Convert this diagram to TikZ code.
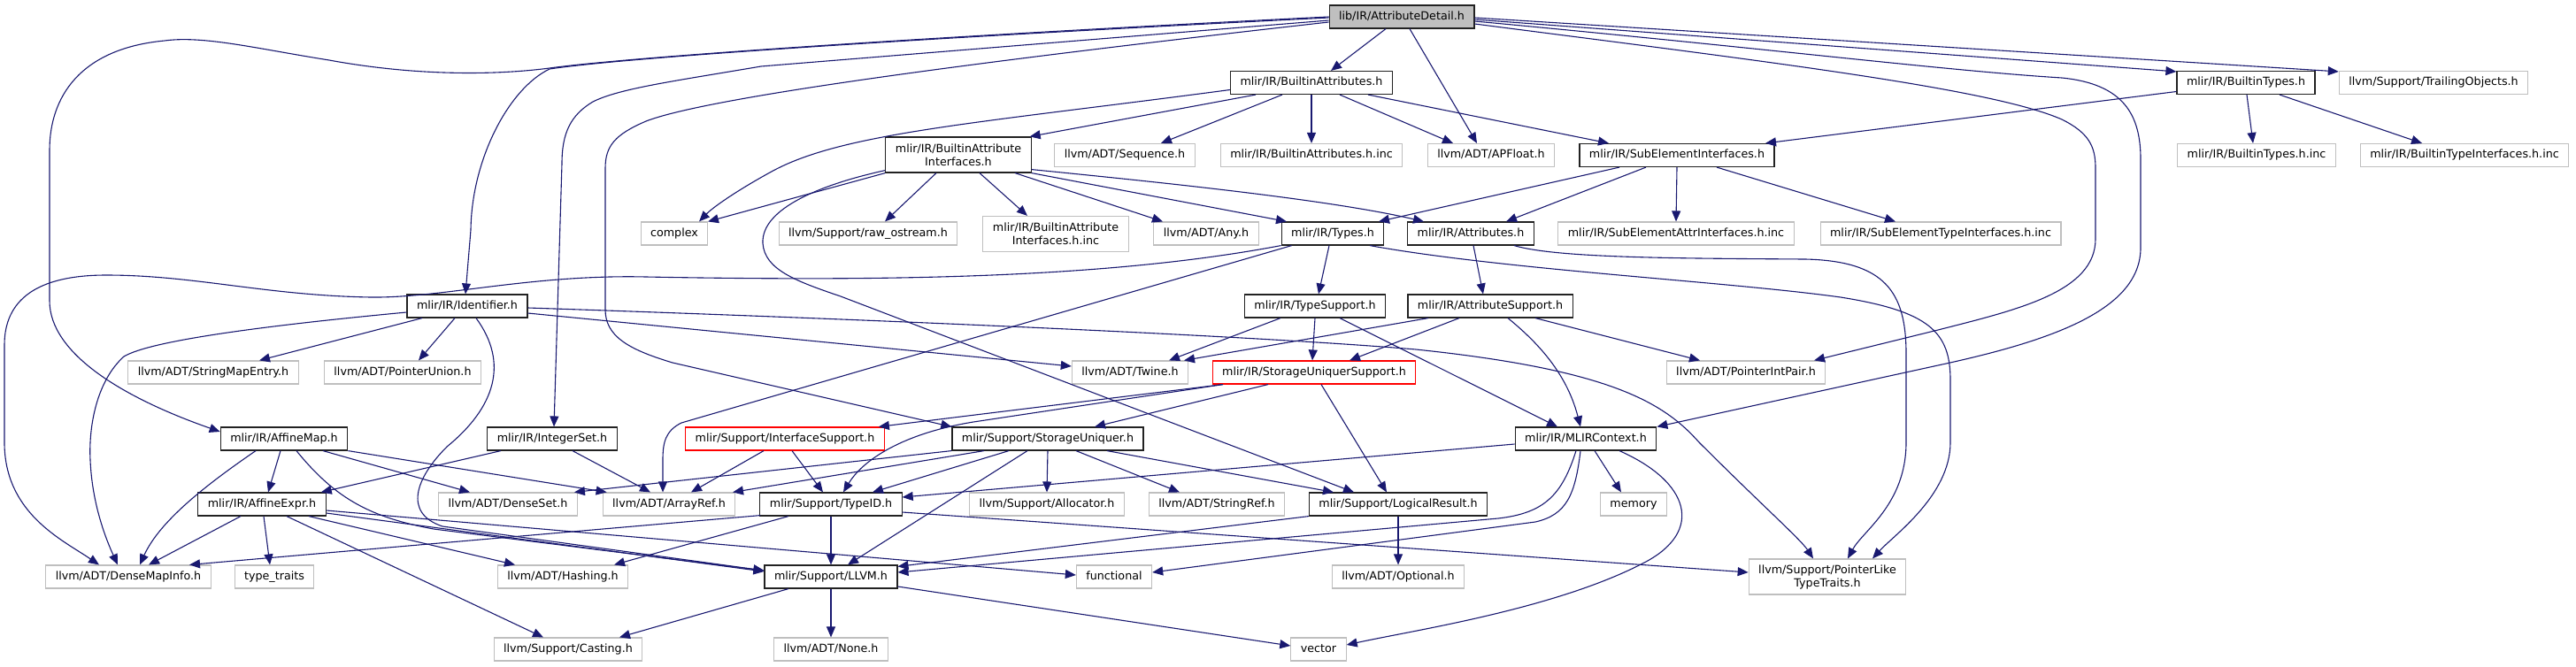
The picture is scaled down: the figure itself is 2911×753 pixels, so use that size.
\documentclass[tikz,border=0pt]{standalone}
\usepackage{fontspec}
\setmainfont{DejaVu Sans}
\usetikzlibrary{arrows.meta}
\definecolor{edgec}{HTML}{191970}
\definecolor{grayc}{HTML}{BFBFBF}
\definecolor{rootfill}{HTML}{BFBFBF}
\definecolor{redc}{HTML}{FF0000}
\definecolor{darkb}{HTML}{222222}
\tikzset{
  base/.style={draw=darkb, line width=1.15pt, fill=white, font=\fontsize{12.7pt}{15pt}\selectfont, inner xsep=11pt, inner ysep=0pt},
  one/.style={text height=9.6pt, text depth=2.8pt, minimum height=26pt},
  two/.style={align=center, minimum height=40pt},
  nb/.style={base, one},
  gb/.style={base, one, draw=grayc},
  rb/.style={base, one, draw=redc},
  rootb/.style={base, one, fill=rootfill},
  nbtwo/.style={base, two},
  gbtwo/.style={base, two, draw=grayc},
  e/.style={draw=edgec, line width=1.1pt, -{Triangle[length=12pt,width=10pt]}},
}
\begin{document}
\begin{tikzpicture}[x=1pt,y=-1pt]
\useasboundingbox (0,0) rectangle (2911,753);
% row 0
\node[rootb] (root) at (1584,19) {lib/IR/AttributeDetail.h};
% row 1
\node[nb] (BAttr) at (1482,93.5) {mlir/IR/BuiltinAttributes.h};
\node[nb] (BTypes) at (2538,93.5) {mlir/IR/BuiltinTypes.h};
\node[gb] (Trailing) at (2750,93.5) {llvm/Support/TrailingObjects.h};
% row 2
\node[nbtwo] (BAI) at (1083,175) {mlir/IR/BuiltinAttribute\\Interfaces.h};
\node[gb] (Seq) at (1271,175.5) {llvm/ADT/Sequence.h};
\node[gb] (BAinc) at (1482,175.5) {mlir/IR/BuiltinAttributes.h.inc};
\node[gb] (APFloat) at (1685,175.5) {llvm/ADT/APFloat.h};
\node[nb] (SEI) at (1895,175.5) {mlir/IR/SubElementInterfaces.h};
\node[gb] (BTinc) at (2550,175.5) {mlir/IR/BuiltinTypes.h.inc};
\node[gb] (BTIinc) at (2785,175.5) {mlir/IR/BuiltinTypeInterfaces.h.inc};
% row 3
\node[gb] (complex) at (762,264) {complex};
\node[gb] (rawos) at (981,264) {llvm/Support/raw\_ostream.h};
\node[gbtwo] (BAIinc) at (1193,264.5) {mlir/IR/BuiltinAttribute\\Interfaces.h.inc};
\node[gb] (Any) at (1363,264) {llvm/ADT/Any.h};
\node[nb] (Types) at (1506,264) {mlir/IR/Types.h};
\node[nb] (Attrs) at (1662,264) {mlir/IR/Attributes.h};
\node[gb] (SEAinc) at (1894,264) {mlir/IR/SubElementAttrInterfaces.h.inc};
\node[gb] (SETinc) at (2193,264) {mlir/IR/SubElementTypeInterfaces.h.inc};
% row 4
\node[nb] (Ident) at (528,346) {mlir/IR/Identifier.h};
\node[nb] (TypeSup) at (1486,346) {mlir/IR/TypeSupport.h};
\node[nb] (AttrSup) at (1684,346) {mlir/IR/AttributeSupport.h};
% row 5
\node[gb] (SME) at (241,421) {llvm/ADT/StringMapEntry.h};
\node[gb] (PU) at (455,421) {llvm/ADT/PointerUnion.h};
\node[gb] (Twine) at (1277,421) {llvm/ADT/Twine.h};
\node[rb] (SUS) at (1485,421) {mlir/IR/StorageUniquerSupport.h};
\node[gb] (PIP) at (1973,421) {llvm/ADT/PointerIntPair.h};
% row 6
\node[nb] (AffMap) at (321,496) {mlir/IR/AffineMap.h};
\node[nb] (IntSet) at (624,496) {mlir/IR/IntegerSet.h};
\node[rb] (IfSup) at (887,496) {mlir/Support/InterfaceSupport.h};
\node[nb] (SU) at (1184,496) {mlir/Support/StorageUniquer.h};
\node[nb] (Ctx) at (1792,496) {mlir/IR/MLIRContext.h};
% row 7
\node[nb] (AffExpr) at (296,570) {mlir/IR/AffineExpr.h};
\node[gb] (DenseSet) at (574,570) {llvm/ADT/DenseSet.h};
\node[gb] (ArrayRef) at (756,570) {llvm/ADT/ArrayRef.h};
\node[nb] (TypeID) at (939,570) {mlir/Support/TypeID.h};
\node[gb] (Alloc) at (1183,570) {llvm/Support/Allocator.h};
\node[gb] (StrRef) at (1375,570) {llvm/ADT/StringRef.h};
\node[nb] (LogRes) at (1580,570) {mlir/Support/LogicalResult.h};
\node[gb] (memory) at (1846,570) {memory};
% row 8
\node[gb] (DMI) at (145,652) {llvm/ADT/DenseMapInfo.h};
\node[gb] (tt) at (310,652) {type\_traits};
\node[gb] (Hash) at (636,652) {llvm/ADT/Hashing.h};
\node[nb] (LLVM) at (939,652) {mlir/Support/LLVM.h};
\node[gb] (functional) at (1259,652) {functional};
\node[gb] (Optional) at (1580,652) {llvm/ADT/Optional.h};
\node[gbtwo] (PLTT) at (2065,652) {llvm/Support/PointerLike\\TypeTraits.h};
% row 9
\node[gb] (Casting) at (642,734) {llvm/Support/Casting.h};
\node[gb] (None) at (939,734) {llvm/ADT/None.h};
\node[gb] (vector) at (1490,734) {vector};

% ---- edges from root
\draw[e] ([xshift=-18pt]root.south) -- ([xshift=22pt]BAttr.north);
\draw[e] ([xshift=9pt]root.south) -- ([xshift=-16pt]APFloat.north);
\draw[e] ([yshift=-3pt]root.east) -- ([yshift=-1pt]BTypes.north west);
\draw[e] ([yshift=-1pt]root.east) -- ([yshift=-1pt]Trailing.north west);
\draw[e] ([yshift=-5pt]root.east) .. controls (2000,55) and (2200,80) .. (2330,88) .. controls (2400,95) and (2419,130) .. (2419,180) -- (2419,280) .. controls (2419,350) and (2320,385) .. (2190,413) -- (Ctx.north east);
\draw[e] ([yshift=-8pt]root.east) .. controls (2000,70) and (2250,100) .. (2330,135) .. controls (2360,150) and (2368,165) .. (2368,190) -- (2368,270) .. controls (2368,330) and (2280,350) .. (2190,373) -- ([xshift=77pt]PIP.north);
\draw[e] ([yshift=-1pt]root.west) .. controls (1000,45) and (700,66) .. (621,78) .. controls (575,100) and (533,180) .. (532,260) -- ([xshift=-2pt]Ident.north);
\draw[e] (root.west) .. controls (1000,44) and (700,66) .. (621,77) .. controls (560,85) and (470,86) .. (372,68) .. controls (290,55) and (230,40) .. (186,46) .. controls (90,55) and (56,110) .. (56,170) -- (56,340) .. controls (56,400) and (140,450) .. ([yshift=8pt]AffMap.west);
\draw[e] ([yshift=-4pt]root.west) -- (860,75) .. controls (760,92) and (700,100) .. (670,115) .. controls (645,130) and (635,150) .. (635,185) -- ([xshift=2pt]IntSet.north);
\draw[e] ([yshift=-6pt]root.west) .. controls (1100,70) and (800,110) .. (730,137) .. controls (695,152) and (684,165) .. (684,190) -- (684,350) .. controls (684,380) and (710,395) .. (760,410) -- (SU.north west);

% ---- BuiltinAttributes
\draw[e] ([xshift=-63pt]BAttr.south) -- ([xshift=-2pt]BAI.north east);
\draw[e] ([xshift=-33pt]BAttr.south) -- ([xshift=41pt]Seq.north);
\draw[e] (BAttr.south) -- (BAinc.north);
\draw[e] ([xshift=32pt]BAttr.south) -- ([xshift=-43pt]APFloat.north);
\draw[e] ([xshift=64pt]BAttr.south) -- ([xshift=-77pt]SEI.north);
\draw[e] ([yshift=-8pt]BAttr.west) .. controls (1100,140) and (950,150) .. (870,195) .. controls (830,217) and (805,235) .. ([xshift=28pt]complex.north);

% ---- BuiltinTypes
\draw[e] ([yshift=-10pt]BTypes.west) -- ([xshift=100pt]SEI.north);
\draw[e] ([xshift=1pt]BTypes.south) -- ([xshift=-4pt]BTinc.north);
\draw[e] ([xshift=38pt]BTypes.south) -- ([xshift=-48pt]BTIinc.north);

% ---- SubElementInterfaces
\draw[e] ([xshift=-65pt]SEI.south) -- ([xshift=52pt]Types.north);
\draw[e] ([xshift=-35pt]SEI.south) -- ([xshift=40pt]Attrs.north);
\draw[e] (SEI.south) -- (SEAinc.north);
\draw[e] ([xshift=45pt]SEI.south) -- ([xshift=-51pt]SETinc.north);

% ---- BuiltinAttributeInterfaces
\draw[e] (BAI.south west) -- ([xshift=38pt]complex.north);
\draw[e] ([xshift=-25pt]BAI.south) -- ([xshift=19pt]rawos.north);
\draw[e] ([xshift=24pt]BAI.south) -- ([xshift=-32pt]BAIinc.north);
\draw[e] ([xshift=64pt]BAI.south) -- ([xshift=-49pt]Any.north);
\draw[e] (BAI.south east) -- ([xshift=-52pt]Types.north);
\draw[e] ([yshift=4pt]BAI.south east) .. controls (1300,205) and (1500,225) .. ([xshift=-53pt]Attrs.north);
\draw[e] ([yshift=3pt]BAI.south west) .. controls (930,208) and (860,235) .. (862,275) .. controls (864,305) and (900,318) .. (950,335) -- ([xshift=-50pt]LogRes.north);

% ---- Types
\draw[e] ([xshift=-4pt]Types.south) -- ([xshift=4pt]TypeSup.north);
\draw[e] ([xshift=12pt]Types.south west) -- (770,478) .. controls (752,487) and (749,500) .. (749,520) -- ([xshift=-7pt]ArrayRef.north);
\draw[e] (Types.south west) .. controls (1250,315) and (1000,318) .. (730,313) .. controls (600,310) and (500,337) .. (419,336) .. controls (300,334) and (220,311) .. (120,311) .. controls (40,311) and (5,340) .. (5,390) -- (5,500) .. controls (5,580) and (70,610) .. ([xshift=-33pt]DMI.north);
\draw[e] ([xshift=42pt]Types.south) .. controls (1700,305) and (1950,318) .. (2080,336) .. controls (2180,352) and (2204,375) .. (2204,430) -- (2204,500) .. controls (2204,560) and (2140,605) .. ([xshift=51pt]PLTT.north);

% ---- Attributes
\draw[e] ([xshift=3pt]Attrs.south) -- ([xshift=-8pt]AttrSup.north);
\draw[e] ([xshift=49pt]Attrs.south) .. controls (1760,292) and (1900,292) .. (2040,293) .. controls (2130,295) and (2154,330) .. (2154,400) -- (2154,500) .. controls (2154,570) and (2105,600) .. ([xshift=23pt]PLTT.north);

% ---- TypeSupport
\draw[e] ([xshift=-39pt]TypeSup.south) -- ([xshift=44pt]Twine.north);
\draw[e] (TypeSup.south) -- ([xshift=-2pt]SUS.north);
\draw[e] ([xshift=28pt]TypeSup.south) -- ([xshift=-32pt]Ctx.north);

% ---- AttributeSupport
\draw[e] ([xshift=-70pt]AttrSup.south) -- ([xshift=61pt]Twine.north);
\draw[e] ([xshift=-35pt]AttrSup.south) -- ([xshift=40pt]SUS.north);
\draw[e] ([xshift=20pt]AttrSup.south) .. controls (1735,385) and (1770,420) .. ([xshift=-6pt]Ctx.north);
\draw[e] ([xshift=51pt]AttrSup.south) -- ([xshift=-52pt]PIP.north);

% ---- Identifier
\draw[e] ([xshift=-51pt]Ident.south) -- ([xshift=52pt]SME.north);
\draw[e] ([xshift=-14pt]Ident.south) -- ([xshift=18pt]PU.north);
\draw[e] ([yshift=-8pt]Ident.east) -- ([yshift=7pt]Twine.west);
\draw[e] ([yshift=-2pt]Ident.east) .. controls (900,358) and (1400,378) .. (1600,395) .. controls (1820,418) and (1880,455) .. (1920,500) .. controls (1990,570) and (2035,610) .. ([xshift=-16pt]PLTT.north);
\draw[e] ([yshift=-7pt]Ident.west) .. controls (300,368) and (170,385) .. (140,403) .. controls (110,430) and (100,480) .. (102,520) .. controls (104,570) and (120,610) .. ([xshift=-12pt]DMI.north);
\draw[e] ([xshift=10pt]Ident.south) .. controls (575,410) and (560,460) .. (505,505) .. controls (470,540) and (455,580) .. (500,595) -- ([yshift=7pt]LLVM.west);

% ---- AffineMap
\draw[e] ([xshift=-4pt]AffMap.south) -- ([xshift=7pt]AffExpr.north);
\draw[e] ([xshift=-32pt]AffMap.south) .. controls (230,550) and (180,590) .. ([xshift=13pt]DMI.north);
\draw[e] ([xshift=14pt]AffMap.south) .. controls (380,565) and (420,585) .. (490,598) -- ([yshift=7pt]LLVM.west);
\draw[e] ([xshift=44pt]AffMap.south) -- ([xshift=-43pt]DenseSet.north);
\draw[e] (AffMap.south east) -- ([xshift=5pt]ArrayRef.north west);

% ---- IntegerSet
\draw[e] ([xshift=-58pt]IntSet.south) -- ([xshift=-6pt]AffExpr.north east);
\draw[e] ([xshift=23pt]IntSet.south) -- ([xshift=-21pt]ArrayRef.north);

% ---- AffineExpr
\draw[e] ([xshift=-24pt]AffExpr.south) -- ([xshift=23pt]DMI.north);
\draw[e] ([xshift=2pt]AffExpr.south) -- ([xshift=-5pt]tt.north);
\draw[e] ([xshift=28pt]AffExpr.south) -- ([xshift=-28pt]Casting.north);
\draw[e] ([xshift=53pt]AffExpr.south) -- ([xshift=-54pt]Hash.north);
\draw[e] ([yshift=-7pt]AffExpr.east) -- ([yshift=2pt]functional.west);
\draw[e] ([yshift=-10pt]AffExpr.east) -- ([yshift=6pt]LLVM.west);

% ---- InterfaceSupport
\draw[e] ([xshift=-24pt]IfSup.south) -- ([xshift=25pt]ArrayRef.north);
\draw[e] ([xshift=8pt]IfSup.south) -- ([xshift=-9pt]TypeID.north);

% ---- StorageUniquerSupport
\draw[e] ([xshift=-103pt]SUS.south) -- ([xshift=-7pt]IfSup.north east);
\draw[e] ([xshift=-52pt]SUS.south) -- ([xshift=53pt]SU.north);
\draw[e] ([xshift=-103pt]SUS.south) -- (1100,477) .. controls (1020,490) and (975,520) .. ([xshift=14pt]TypeID.north);
\draw[e] ([xshift=8pt]SUS.south) -- ([xshift=-13pt]LogRes.north);

% ---- StorageUniquer
\draw[e] (SU.south west) -- ([xshift=-4pt]DenseSet.north east);
\draw[e] ([xshift=-72pt]SU.south) -- ([xshift=72pt]ArrayRef.north);
\draw[e] ([xshift=-44pt]SU.south) -- ([xshift=47pt]TypeID.north);
\draw[e] ([xshift=-23pt]SU.south) -- ([xshift=19pt]LLVM.north);
\draw[e] (SU.south) -- (Alloc.north);
\draw[e] ([xshift=32pt]SU.south) -- ([xshift=-42pt]StrRef.north);
\draw[e] ([xshift=67pt]SU.south) -- ([xshift=-73pt]LogRes.north);

% ---- TypeID
\draw[e] ([xshift=1pt,yshift=1pt]TypeID.south west) -- ([xshift=69pt]DMI.north);
\draw[e] ([xshift=-48pt]TypeID.south) -- ([xshift=58pt]Hash.north);
\draw[e] (TypeID.south) -- (LLVM.north);
\draw[e] ([yshift=-9pt]TypeID.east) -- ([yshift=5pt]PLTT.west);

% ---- MLIRContext
\draw[e] ([yshift=-6pt]Ctx.west) -- ([yshift=8pt]TypeID.east);
\draw[e] ([xshift=-11pt]Ctx.south) .. controls (1765,560) and (1745,580) .. (1693,586) -- ([yshift=5pt]LLVM.east);
\draw[e] ([xshift=-6pt]Ctx.south) .. controls (1780,560) and (1770,582) .. (1735,590) -- ([yshift=5pt]functional.east);
\draw[e] ([xshift=10pt]Ctx.south) -- ([xshift=-14pt]memory.north);
\draw[e] ([xshift=38pt]Ctx.south) .. controls (1910,545) and (1925,600) .. (1860,635) .. controls (1760,688) and (1600,712) .. ([yshift=5pt]vector.east);

% ---- LogicalResult
\draw[e] (LogRes.south) -- (Optional.north);
\draw[e] (LogRes.south west) -- ([yshift=-2pt]LLVM.north east);

% ---- LLVM
\draw[e] ([xshift=-48pt]LLVM.south) -- ([xshift=58pt]Casting.north);
\draw[e] (LLVM.south) -- (None.north);
\draw[e] ([yshift=-11pt]LLVM.east) -- ([yshift=4pt]vector.west);
\end{tikzpicture}
\end{document}
